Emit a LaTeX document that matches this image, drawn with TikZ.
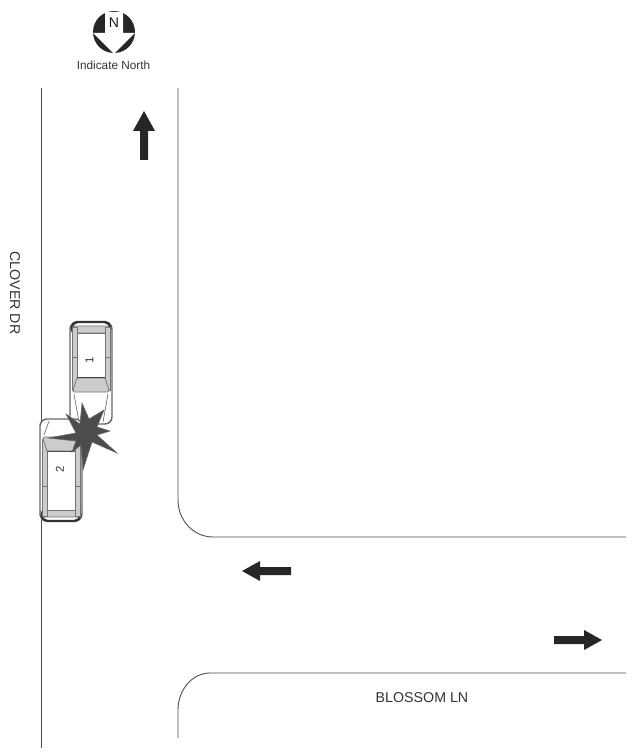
\documentclass[tikz,border=0pt]{standalone}
\usepackage{fontspec}
\setmainfont{Liberation Sans}
\usetikzlibrary{calc}
\definecolor{roadGray}{gray}{0.3}
\definecolor{arrowDark}{gray}{0.15}
\definecolor{carGray}{gray}{0.8}
\definecolor{starGray}{gray}{0.3}
\tikzset{
    road/.style={draw=roadGray, line width=0.5pt},
    bigarrow/.style={fill=arrowDark, draw=none},
    label/.style={font=\fontsize{8.1}{10}\selectfont, text=black!80},
    carline/.style={draw=black!55, line width=0.4pt},
    pics/vehicle/.style={code={
        % local origin is the middle of the car, hood towards +y, #1 is where the roof stops
        \draw [draw=black!60, line width=0.8pt, rounded corners=4pt, fill=white] (-21,-51) rectangle (21,51);
        \draw [draw=black!80, line width=1.4pt, rounded corners=3pt] (-19,-47) -- (-19,-51) -- (19,-51) -- (19,-47);
        \draw [carline, fill=carGray] (-18,-47) -- (18,-47) -- (14,-40) -- (-14,-40) -- cycle;
        \draw [carline, fill=carGray] (-19,-46) rectangle (-14,#1+12);
        \draw [carline, fill=carGray] (14,-46) rectangle (19,#1+12);
        \draw [carline] (-19,-16) -- (-14,-16) (14,-16) -- (19,-16);
        \draw [carline, fill=white] (-14,-40) rectangle (14,#1);
        \draw [draw=black!85, line width=0.6pt] (-14,#1) -- (14,#1);
        \draw [carline, fill=carGray] (-14,#1) -- (14,#1) -- (18,#1+12) -- (17,#1+14) -- (-17,#1+14) -- (-18,#1+12) -- cycle;
        \draw [carline] (-17,#1+16) -- (-12,49) (17,#1+16) -- (12,49);
    }},
}
\begin{document}
\begin{tikzpicture}[x=0.02cm, y=-0.02cm]
    \useasboundingbox (0,0) rectangle (638,753);
    % roads
    \draw [road] (41,88) -- (41,748);
    \draw [road] (178,88) -- (178,500) arc [start angle=180, end angle=270, x radius=35, y radius=-37] -- (626,537);
    \draw [road] (178,738) -- (178,710) arc [start angle=180, end angle=90, x radius=32, y radius=-37] -- (626,673);
    % direction arrows
    \fill [bigarrow] (144,111) -- (155,131) -- (148,131) -- (148,160) -- (140,160) -- (140,131) -- (133,131) -- cycle;
    \fill [bigarrow] (242,571) -- (260,561) -- (260,567) -- (291,567) -- (291,575) -- (260,575) -- (260,581) -- cycle;
    \fill [bigarrow] (602,640) -- (584,630) -- (584,636) -- (554,636) -- (554,644) -- (584,644) -- (584,650) -- cycle;
    % north sign
    \coordinate (north) at (114,32);
    \fill [arrowDark] (north) circle [radius=21];
    \fill [white] (105,12) -- (123,12) -- (123,33) -- (135,33) -- (114,54) -- (93,33) -- (105,33) -- cycle;
    \node [label, text=black!90, font=\fontsize{8}{10}\selectfont] (northN) at (114,23) {N};
    \node [label, font=\fontsize{6.7}{9}\selectfont] (northText) at (113.5,65) {Indicate North};
    % vehicles
    \pic at (91,373) {vehicle=5};
    \pic [rotate=180] at (61,470) {vehicle=19};
    \node [label, rotate=90, font=\fontsize{6.5}{8}\selectfont] (carOne) at (89.5,360) {1};
    \node [label, rotate=90, font=\fontsize{6.5}{8}\selectfont] (carTwo) at (60,469) {2};
    % impact
    \fill [starGray, draw=black!60, line width=0.3pt] (82,403) -- (89,419) -- (104,410) -- (97,427) -- (110,431) -- (97,435)
        -- (117,453) -- (92,442) -- (83,470) -- (81,445) -- (72,452) -- (76,441) -- (48,438) -- (76,433) -- (66,414) -- (80,424) -- cycle;
    % street names
    \node [label, rotate=-90] (clover) at (15,293) {CLOVER DR};
    \node [label] (blossom) at (422,698) {BLOSSOM LN};
\end{tikzpicture}
\end{document}
